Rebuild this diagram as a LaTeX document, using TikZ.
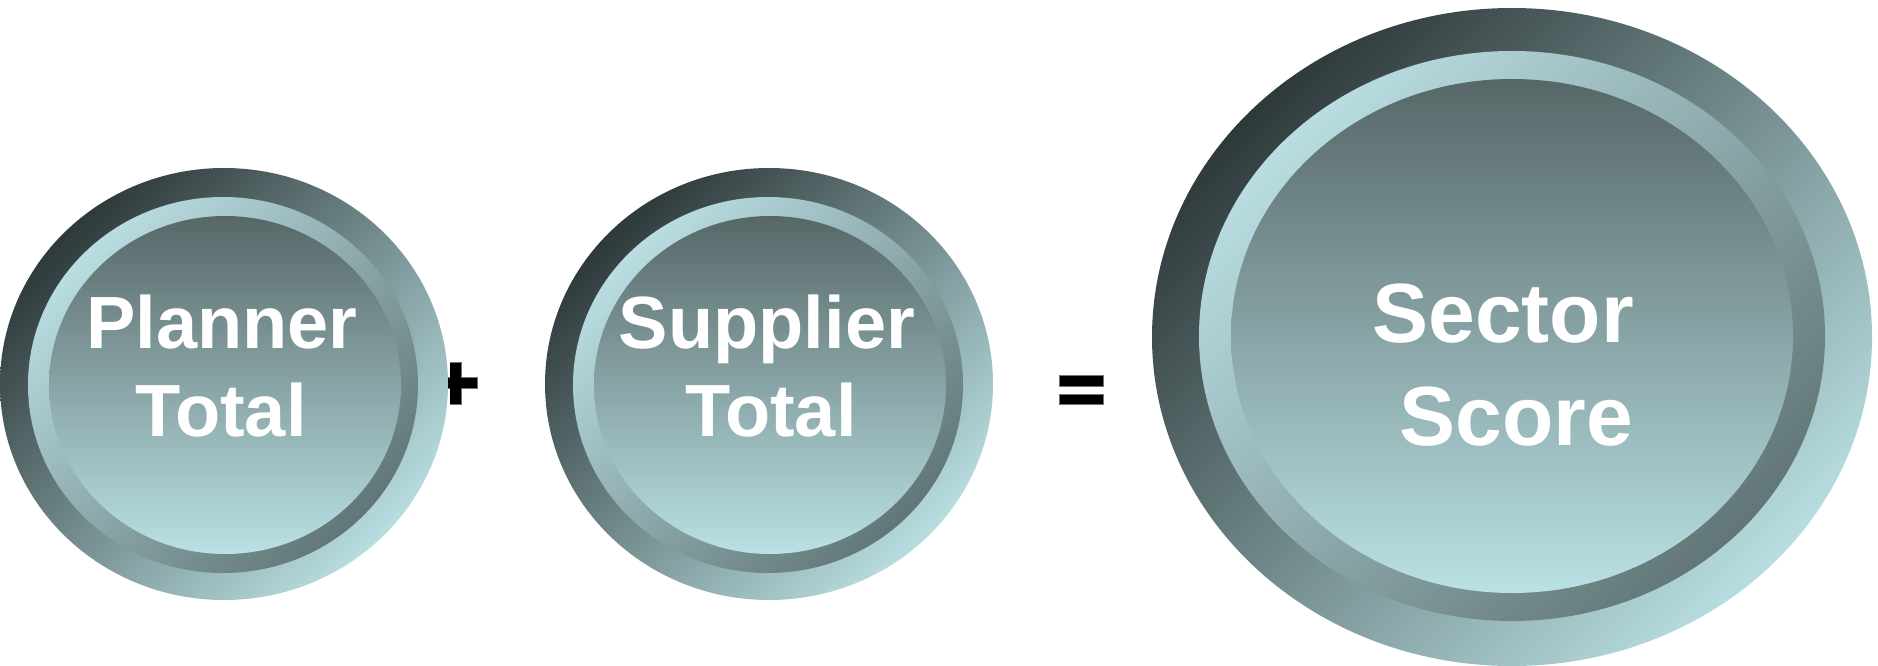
\documentclass[tikz,border=0pt]{standalone}
\usepackage{fontspec}
\setmainfont{Liberation Sans}
\definecolor{odark}{HTML}{2E393A}
\definecolor{olight}{HTML}{B8DDE0}
\definecolor{rlight}{HTML}{B9DDE1}
\definecolor{rdark}{HTML}{627677}
\definecolor{itop}{HTML}{576768}
\definecolor{ibot}{HTML}{BAE1E4}
\tikzset{
  outerring/.style={top color=odark, bottom color=olight, shading angle=45},
  midring/.style={top color=rlight, bottom color=rdark, shading angle=45},
  innerdisc/.style={top color=itop, bottom color=ibot},
  lbl/.style={anchor=base, text=white, inner sep=0pt, font=\bfseries\fontsize{74}{88}\selectfont},
  biglbl/.style={anchor=base, text=white, inner sep=0pt, font=\bfseries\fontsize{84}{100}\selectfont},
  opsign/.style={fill=black, draw=black!55, line width=0.6pt}
}
\begin{document}
\begin{tikzpicture}[x=1pt,y=-1pt]
\useasboundingbox (0,0) rectangle (1878,666);
% plus sign (behind the left disc)
\fill[opsign] (450,362) rectangle (461,404);
\fill[opsign] (434,377) rectangle (477,388);
\fill[black] (450,362.5) rectangle (461,403.5);
% left disc
\shade[outerring] (224,384) ellipse [x radius=224pt, y radius=216pt];
\shade[midring] (223,385) ellipse [x radius=195pt, y radius=188pt];
\shade[innerdisc] (225,385) ellipse [x radius=176pt, y radius=169pt];
\node[lbl] (planner) at (222,348) {Planner};
\node[lbl] (total1) at (221,436) {Total};
% middle disc
\shade[outerring] (769,384) ellipse [x radius=224pt, y radius=216pt];
\shade[midring] (768,385) ellipse [x radius=195pt, y radius=188pt];
\shade[innerdisc] (770,385) ellipse [x radius=176pt, y radius=169pt];
\node[lbl] (supplier) at (767,348) {Supplier};
\node[lbl] (total2) at (771,436) {Total};
% equals sign
\fill[opsign] (1059,375) rectangle (1103,386);
\fill[opsign] (1059,394) rectangle (1103,404);
% right disc
\shade[outerring] (1512,337) ellipse [x radius=360pt, y radius=329pt];
\shade[midring] (1512,336) ellipse [x radius=313pt, y radius=285pt];
\shade[innerdisc] (1512,336) ellipse [x radius=281pt, y radius=257pt];
\node[biglbl] (sector) at (1503,342) {Sector};
\node[biglbl] (score) at (1516,445) {Score};
\end{tikzpicture}
\end{document}
